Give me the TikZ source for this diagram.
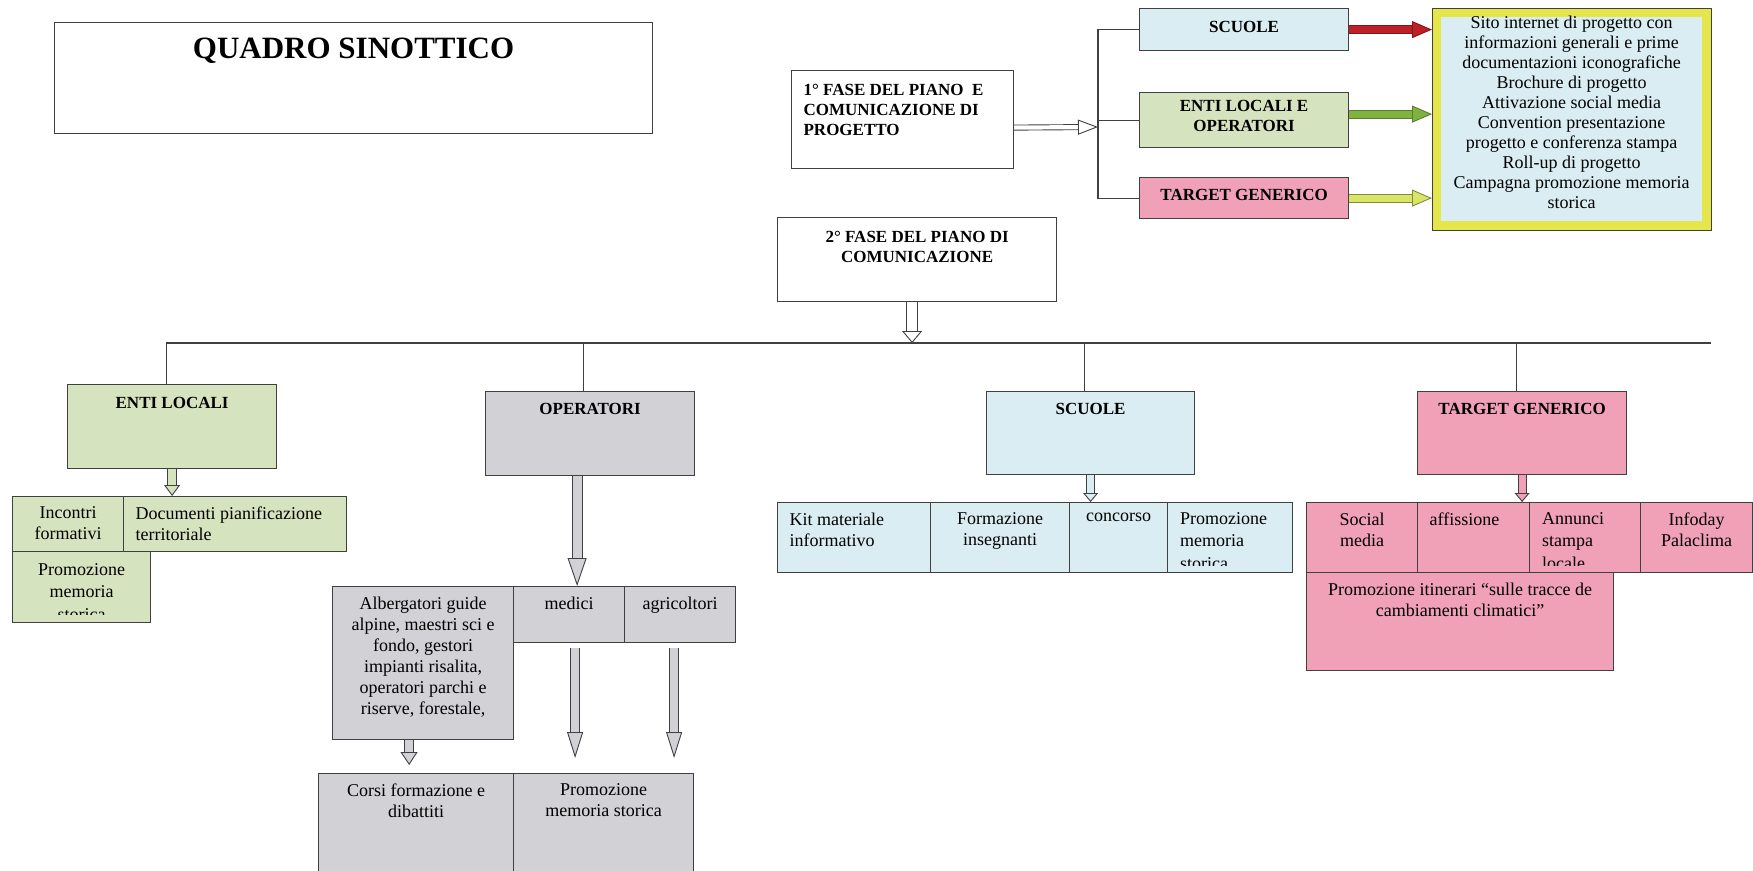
\documentclass[tikz,border=0pt]{standalone}
\usepackage{fontspec}
\setmainfont{Liberation Serif}
\usetikzlibrary{calc}
\usetikzlibrary{arrows.meta}
\definecolor{lblue}{rgb}{0.85,0.93,0.95}
\definecolor{lgreen}{rgb}{0.84,0.89,0.75}
\definecolor{lpink}{rgb}{0.94,0.63,0.72}
\definecolor{lgray}{rgb}{0.82,0.82,0.84}
\definecolor{framegray}{rgb}{0.25,0.25,0.25}
\definecolor{yframe}{rgb}{0.90,0.90,0.30}
\definecolor{redarrow}{rgb}{0.75,0.12,0.15}
\definecolor{greenarrow}{rgb}{0.50,0.70,0.25}
\definecolor{yellowarrow}{rgb}{0.85,0.90,0.40}

\newcommand{\boxtext}[4][6pt]{\parbox[t][#3][t]{#2}{\vspace*{#1}#4}}
\newcommand{\lft}{\raggedright\leftskip=12pt\relax}
\newcommand{\bodyfont}{\fontsize{18}{21}\selectfont}
\newcommand{\headfont}{\fontsize{17}{20}\selectfont\bfseries}

\begin{document}
\begin{tikzpicture}[%
  x=1pt, y=-1pt,
  cell/.style={draw=framegray, line width=1.2pt, inner sep=0pt, anchor=north west, font=\bodyfont},
  head/.style={cell, font=\headfont},
  conn/.style={draw=framegray, line width=1.2pt},
  % fill, shaft width, tip length, tip width
  harrow/.style n args={4}{draw=#1, line width=#2-1.8pt,
    preaction={draw=framegray, line width=#2, -, shorten >=#3-1pt},
    -{Triangle[length=#3, width=#4, color=framegray, fill=#1, line width=0.9pt]}},
  colarrow/.style 2 args={draw=#2, line width=7pt,
    preaction={draw=#1, line width=9pt, -, shorten >=19pt},
    -{Triangle[length=20pt, width=17pt, color=#1, fill=#2, line width=0.9pt]}},
  cliptext/.style={inner sep=0pt, minimum width=0pt, minimum height=0pt, font=\fontsize{18}{22.5}\selectfont},
]

  \useasboundingbox (0,0) rectangle (1753,870);

  % first phase
  \node[head] (title) at (54,22) {\boxtext[15pt]{598pt}{111pt}{\centering\fontsize{31}{36}\selectfont QUADRO SINOTTICO}};
  \node[head] (fase1) at (791,70) {\boxtext[14pt]{222pt}{98pt}{\lft 1° FASE DEL PIANO~ E\\COMUNICAZIONE DI\\PROGETTO}};

  \node[head, fill=lblue] (sc) at (1139,8) {\boxtext[13pt]{209pt}{42pt}{\centering SCUOLE}};
  \node[head, fill=lgreen] (eo) at (1139,92) {\boxtext[8pt]{209pt}{55pt}{\centering ENTI LOCALI E\\OPERATORI}};
  \node[head, fill=lpink] (tg) at (1139,177) {\boxtext[12pt]{209pt}{41pt}{\centering TARGET GENERICO}};

  \node[cell, fill=lblue, draw=yframe, line width=9pt] (info) at (1432,8) {\boxtext[4pt]{270pt}{213pt}{\centering\fontsize{18}{20}\selectfont
    Sito internet di progetto con\\informazioni generali e prime\\documentazioni iconografiche\\Brochure di progetto\\Attivazione social media\\Convention presentazione\\progetto e conferenza stampa\\Roll-up di progetto\\Campagna promozione memoria\\storica}};
  \draw[conn, line width=1pt] (info.north west) rectangle (info.south east);

  \coordinate (bus1) at (1098,127);
  \draw[conn] (sc.west) -| (bus1) |- (tg.west);
  \draw[conn] (bus1 |- eo.west) -- (eo.west);
  \draw[harrow={white}{6pt}{20pt}{15pt}] ([yshift=-8pt]fase1.east) -- (bus1);

  \draw[colarrow={redarrow!70!black}{redarrow}] (sc.east) -- (sc.east -| info.west);
  \draw[colarrow={greenarrow!70!black}{greenarrow}] ([yshift=6pt]eo.east) -- ([yshift=6pt]eo.east -| info.west);
  \draw[colarrow={yellowarrow!60!black}{yellowarrow}] (tg.east) -- (tg.east -| info.west);

  % second phase
  \node[head] (fase2) at (777,217) {\boxtext[14pt]{279pt}{84pt}{\centering 2° FASE DEL PIANO DI\\COMUNICAZIONE}};

  \node[head, fill=lgreen] (el) at (67,384) {\boxtext[13pt]{209pt}{84pt}{\centering ENTI LOCALI}};
  \node[head, fill=lgray] (op) at (485,391) {\boxtext[12pt]{209pt}{84pt}{\centering OPERATORI}};
  \node[head, fill=lblue] (scb) at (986,391) {\boxtext[12pt]{208pt}{83pt}{\centering SCUOLE}};
  \node[head, fill=lpink] (tgb) at (1417,391) {\boxtext[12pt]{209pt}{83pt}{\centering TARGET GENERICO}};

  \coordinate (bus2) at (911,343);
  \coordinate (bus2e) at (1711,343);
  \draw[conn] ([xshift=-6pt]el.north) |- (bus2e);
  \draw[conn] ([xshift=-7pt]op.north) -- ([xshift=-7pt]op.north |- bus2);
  \draw[conn] ([xshift=-6pt]scb.north) -- ([xshift=-6pt]scb.north |- bus2);
  \draw[conn] ([xshift=-6pt]tgb.north) -- ([xshift=-6pt]tgb.north |- bus2);
  \draw[harrow={white}{12pt}{12pt}{20pt}] ([xshift=-5pt]fase2.south) -- ([xshift=-5pt]fase2.south |- bus2);

  % enti locali
  \node[cell, fill=lgreen] (el1) at (12,496) {\boxtext[10pt]{111pt}{55pt}{\centering Incontri\\formativi}};
  \node[cell, fill=lgreen] (el2) at (123,496) {\boxtext[10pt]{223pt}{55pt}{\lft Documenti pianificazione\\territoriale}};
  \node[cell, fill=lgreen, minimum width=138pt, minimum height=71pt, path picture={
    \clip (path picture bounding box.north west) rectangle ([yshift=8pt]path picture bounding box.south east);
    \node (el3t) [cliptext, anchor=north, align=center] at ([yshift=-11pt]path picture bounding box.north) {Promozione\\memoria\\storica};}] (el3) at (12,551) {};

  % operatori
  \node[cell, fill=lgray] (op1) at (332,586) {\boxtext[10pt]{181pt}{153pt}{\centering Albergatori guide\\alpine, maestri sci e\\fondo, gestori\\impianti risalita,\\operatori parchi e\\riserve, forestale,}};
  \node[cell, fill=lgray] (op2) at (513,586) {\boxtext[10pt]{111pt}{56pt}{\centering medici}};
  \node[cell, fill=lgray] (op3) at (624,586) {\boxtext[10pt]{111pt}{56pt}{\centering agricoltori}};
  \node[cell, fill=lgray] (op4) at (318,773) {\boxtext[10pt]{195pt}{120pt}{\centering Corsi formazione e\\dibattiti}};
  \node[cell, fill=lgray] (op5) at (513,773) {\boxtext[10pt]{180pt}{120pt}{\centering Promozione\\memoria storica}};

  % scuole
  \node[cell, fill=lblue] (s1) at (777,502) {\boxtext[10pt]{153pt}{70pt}{\lft Kit materiale\\informativo}};
  \node[cell, fill=lblue] (s2) at (930,502) {\boxtext[10pt]{139pt}{70pt}{\centering Formazione\\insegnanti}};
  \node[cell, fill=lblue] (s3) at (1069,502) {\boxtext[10pt]{98pt}{70pt}{\centering concorso}};
  \node[cell, fill=lblue, minimum width=125pt, minimum height=70pt, path picture={
    \clip (path picture bounding box.north west) rectangle ([yshift=7pt]path picture bounding box.south east);
    \node (s4t) [cliptext, anchor=north west, align=left] at ([shift={(12pt,-9pt)}]path picture bounding box.north west) {Promozione\\memoria\\storica};}] (s4) at (1167,502) {};

  % target generico
  \node[cell, fill=lpink] (t1) at (1306,502) {\boxtext[10pt]{111pt}{70pt}{\centering Social\\media}};
  \node[cell, fill=lpink] (t2) at (1417,502) {\boxtext[10pt]{112pt}{70pt}{\lft affissione}};
  \node[cell, fill=lpink, minimum width=111pt, minimum height=70pt, path picture={
    \clip (path picture bounding box.north west) rectangle ([yshift=7pt]path picture bounding box.south east);
    \node (t3t) [cliptext, anchor=north west, align=left] at ([shift={(12pt,-9pt)}]path picture bounding box.north west) {Annunci\\stampa\\locale};}] (t3) at (1529,502) {};
  \node[cell, fill=lpink] (t4) at (1640,502) {\boxtext[10pt]{112pt}{70pt}{\centering Infoday\\Palaclima}};
  \node[cell, fill=lpink] (t5) at (1306,572) {\boxtext[10pt]{307pt}{98pt}{\centering Promozione itinerari “sulle tracce de\\cambiamenti climatici”}};

  \draw[harrow={lgreen}{10pt}{11pt}{16pt}] (el.south) -- (el.south |- el2.north);
  \draw[harrow={lgray}{11pt}{28pt}{19pt}] ([xshift=-13pt]op.south) -- ([xshift=-13pt]op.south |- op2.north);
  \draw[harrow={lblue}{9pt}{9pt}{15pt}] (scb.south) -- (scb.south |- s3.north);
  \draw[harrow={lpink}{9pt}{9pt}{15pt}] (tgb.south) -- (tgb.south |- t3.north);
  \draw[harrow={lgray}{10pt}{26pt}{16pt}] ([shift={(6pt,-5pt)}]op2.south) -- ($(op2.south |- op5.north)+(6pt,15pt)$);
  \draw[harrow={lgray}{10pt}{26pt}{16pt}] ([shift={(-6pt,-5pt)}]op3.south) -- ($(op3.south |- op5.north)+(-6pt,15pt)$);
  \draw[harrow={lgray}{10pt}{13pt}{17pt}] ([xshift=-14pt]op1.south) -- ($(op1.south |- op4.north)+(-14pt,8pt)$);

\end{tikzpicture}
\end{document}
